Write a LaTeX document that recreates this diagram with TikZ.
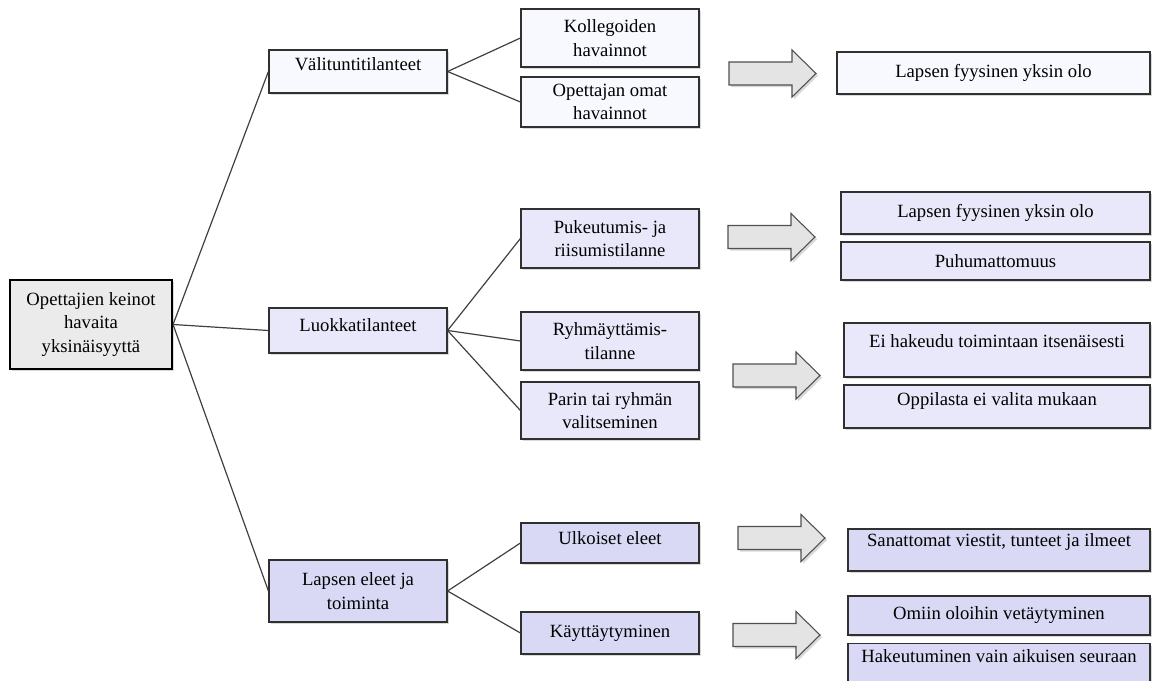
\documentclass[tikz,border=0pt]{standalone}
\usepackage{fontspec}
\setmainfont{Liberation Serif}
\usetikzlibrary{shadows}

\definecolor{boxline}{HTML}{303030}
\definecolor{linkline}{HTML}{404040}
\definecolor{rootfill}{HTML}{EBEBEB}
\definecolor{fillA}{HTML}{F8F8FF}
\definecolor{fillB}{HTML}{E8E8FA}
\definecolor{fillC}{HTML}{D9D9F6}
\definecolor{arrowfill}{HTML}{E4E4E4}
\definecolor{arrowline}{HTML}{505050}

% block arrow: left x, centre y (pixel units)
\newcommand{\blockarrow}[2]{%
  \draw[barrow] (#1,#2-11.5) -- ++(63,0) -- ++(0,-12) -- (#1+87,#2)
    -- (#1+63,#2+23.5) -- ++(0,-12) -- (#1,#2+11.5) -- cycle;}

\begin{document}
\begin{tikzpicture}[x=0.75pt,y=-0.75pt,
  box/.style={draw=boxline, line width=0.9pt, align=center, inner sep=2pt,
    font=\fontsize{14}{17.5}\selectfont,
    drop shadow={shadow xshift=1.6pt, shadow yshift=-1.6pt, opacity=0.3}},
  basedrop/.style={text height=10pt, text depth=#1},
  rootbox/.style={box, draw=black, line width=1.6pt, fill=rootfill,
    minimum width=121.5pt, minimum height=66.75pt},
  midbox/.style={box, minimum width=133.5pt},
  sidebox/.style={box, minimum width=133.5pt},
  link/.style={draw=linkline, line width=0.9pt},
  barrow/.style={draw=arrowline, line width=0.8pt, fill=arrowfill,
    drop shadow={shadow xshift=1.6pt, shadow yshift=-1.6pt, opacity=0.3}}]

\clip (0,0) rectangle (1152,681);

% root
\node[rootbox] (root) at (91,324.5) {Opettajien keinot\\havaita\\yksinäisyyttä};

% first level
\node[midbox, fill=fillA, minimum height=32.25pt, basedrop=10.75pt] (v1) at (358,71.5) {Välituntitilanteet};
\node[midbox, fill=fillB, minimum height=33.75pt, basedrop=9.25pt] (v2) at (358,330.5) {Luokkatilanteet};
\node[midbox, fill=fillC, minimum height=46.5pt]  (v3) at (358,591) {Lapsen eleet ja\\toiminta};

% second level
\node[sidebox, fill=fillA, minimum height=43.5pt]  (c1) at (610,38)    {Kollegoiden\\havainnot};
\node[sidebox, fill=fillA, minimum height=37.5pt]  (c2) at (610,102)   {Opettajan omat\\havainnot};
\node[sidebox, fill=fillB, minimum height=44.25pt] (c3) at (610,238.5) {Pukeutumis- ja\\riisumistilanne};
\node[sidebox, fill=fillB, minimum height=43.5pt]  (c4) at (610,341)   {Ryhmäyttämis-\\tilanne};
\node[sidebox, fill=fillB, minimum height=42.75pt] (c5) at (610,410.5) {Parin tai ryhmän\\valitseminen};
\node[sidebox, fill=fillC, minimum height=30pt, basedrop=8.5pt] (c6) at (610,543) {Ulkoiset eleet};
\node[sidebox, fill=fillC, minimum height=31.5pt]  (c7) at (610,633)   {Käyttäytyminen};

% connectors
\path[link] (root.east) -- (v1.west);
\path[link] (root.east) -- (v2.west);
\path[link] (root.east) -- (v3.west);
\path[link] (v1.east) -- (c1.west);
\path[link] (v1.east) -- (c2.west);
\path[link] (v2.east) -- (c3.west);
\path[link] (v2.east) -- (c4.west);
\path[link] (v2.east) -- (c5.west);
\path[link] (v3.east) -- (c6.west);
\path[link] (v3.east) -- (c7.west);

% block arrows
\blockarrow{729}{73.5}
\blockarrow{728}{237}
\blockarrow{733}{375.5}
\blockarrow{738}{538}
\blockarrow{733}{635}

% outcome boxes
\node[box, fill=fillA, minimum width=234.75pt, minimum height=31.5pt] (r1) at (993.5,73) {Lapsen fyysinen yksin olo};
\node[box, fill=fillB, minimum width=231.75pt, minimum height=31.5pt] (r2) at (995.5,213) {Lapsen fyysinen yksin olo};
\node[box, fill=fillB, minimum width=231.75pt, minimum height=28.5pt] (r3) at (995.5,261) {Puhumattomuus};
\node[box, fill=fillB, minimum width=229.5pt, minimum height=40.5pt, basedrop=14.5pt] (r4) at (997,350) {Ei hakeudu toimintaan itsenäisesti};
\node[box, fill=fillB, minimum width=229.5pt, minimum height=32.25pt, basedrop=12.25pt] (r5) at (997,406.5) {Oppilasta ei valita mukaan};
\node[box, fill=fillC, minimum width=226.5pt, minimum height=31.5pt, basedrop=16pt] (r6) at (999,550) {Sanattomat viestit, tunteet ja ilmeet};
\node[box, fill=fillC, minimum width=226.5pt, minimum height=29.25pt] (r7) at (999,615.5) {Omiin oloihin vetäytyminen};
\node[box, fill=fillC, minimum width=226.5pt, anchor=north, inner ysep=2.5pt,
      text height=12pt, text depth=26pt] (r8) at (999,643) {Hakeutuminen vain aikuisen seuraan};
\end{tikzpicture}
\end{document}
